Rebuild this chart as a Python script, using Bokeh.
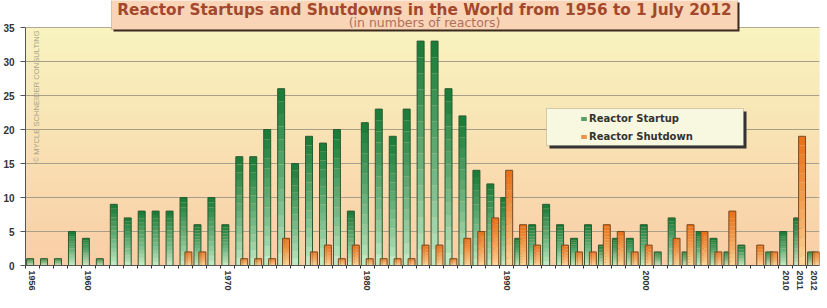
import numpy as np
from bokeh.plotting import figure
from bokeh.models import (Range1d, FixedTicker, Label, BoxAnnotation, Legend, LegendItem,
                          ColumnDataSource)
from bokeh.embed import file_html
from bokeh.resources import INLINE

# ---------------- data ----------------
years = list(range(1956, 2013))
startups = [1, 1, 1, 5, 4, 1, 9, 7, 8, 8,
            8, 10, 6, 10, 6, 16, 16, 20, 26, 15,
            19, 18, 20, 8, 21, 23, 19, 23, 33, 33,
            26, 22, 14, 12, 10, 4, 6, 9, 6, 4,
            6, 3, 4, 4, 6, 2, 7, 2, 5, 4,
            2, 3, 0, 2, 5, 7, 2]
shutdowns = [0, 0, 0, 0, 0, 0, 0, 0, 0, 0,
             0, 2, 2, 0, 0, 1, 1, 1, 4, 0,
             2, 3, 1, 3, 1, 1, 1, 1, 3, 3,
             1, 4, 5, 7, 14, 6, 3, 0, 3, 2,
             2, 6, 5, 2, 3, 0, 4, 6, 5, 2,
             8, 0, 3, 2, 0, 19, 2]
tick_years = [1956, 1960, 1970, 1980, 1990, 2000, 2010, 2011, 2012]
y_ticks = [0, 5, 10, 15, 20, 25, 30, 35]
y_max = 35
series_names = ["Reactor Startup", "Reactor Shutdown"]
title_text = "Reactor Startups and Shutdowns in the World from 1956 to 1 July 2012"
subtitle_text = "(in numbers of reactors)"
watermark_text = "\u00a9 MYCLE SCHNEIDER CONSULTING"

FONT = "Liberation Sans"
WIDE = "DejaVu Sans"

# frame extends above the value area so the title box can be drawn there
px_per_unit = 238 / y_max
y_top = y_max + 27 / px_per_unit

p = figure(width=827, height=308, output_backend="svg", toolbar_location=None,
           x_range=Range1d(1955.5, 2012.43), y_range=Range1d(0, y_top),
           min_border_left=22, min_border_right=8, min_border_top=0, min_border_bottom=43,
           background_fill_color="white", border_fill_color="white")
p.outline_line_color = None

# background gradient (yellow top -> peach bottom)
n = 200
top_c = np.array([248, 244, 192])
bot_c = np.array([250, 206, 166])
t = np.linspace(0, 1, n)[:, None]  # row 0 = bottom
cols = bot_c * (1 - t) + top_c * t
img = np.zeros((n, 1), dtype=np.uint32)
view = img.view(dtype=np.uint8).reshape((n, 1, 4))
view[:, 0, 0] = cols[:, 0]
view[:, 0, 1] = cols[:, 1]
view[:, 0, 2] = cols[:, 2]
view[:, 0, 3] = 255
xr0, xr1 = p.x_range.start, p.x_range.end
p.image_rgba(image=[img], x=xr0, y=0, dw=xr1 - xr0, dh=y_max, level="image")

# plot-area border
p.add_layout(BoxAnnotation(left=xr0, right=xr1, bottom=0, top=y_max,
                           fill_alpha=0, line_color="#c9c2b0", line_width=1, level="underlay"))

# ---------------- bars with vertical gradient ----------------
def hex_mix(c1, c2, f):
    c = [int(round(a * (1 - f) + b * f)) for a, b in zip(c1, c2)]
    return "#%02x%02x%02x" % tuple(c)

def gradient_bars(vals, offset, dark, light, line):
    xs = [y + offset for y in years]
    N = 14
    rs = []
    for k in range(N):
        f = (k + 0.5) / N  # 0 bottom -> 1 top
        col = hex_mix(light, dark, f ** 0.8)
        r = p.vbar(x=xs, bottom=[v * k / N for v in vals], top=[v * (k + 1) / N for v in vals],
                   width=0.5, fill_color=col, line_color=None)
        rs.append(r)
    nz = [(x, v) for x, v in zip(xs, vals) if v > 0]
    src = ColumnDataSource(dict(x=[a for a, _ in nz], top=[b for _, b in nz]))
    p.vbar(x="x", top="top", bottom=0, width=0.5, source=src,
           fill_color=None, line_color=line, line_width=1)
    return rs[int(N * 0.6)]

lg_g = gradient_bars(startups, -0.17, (22, 122, 52), (205, 240, 205), "#2c5a33")
lg_o = gradient_bars(shutdowns, 0.18, (232, 112, 24), (252, 220, 160), "#7a4a20")

# ---------------- axes ----------------
p.xaxis.ticker = FixedTicker(ticks=tick_years, minor_ticks=[y - 0.5 for y in years] + [2012.5])
p.xaxis.major_label_orientation = "vertical"
p.xaxis.major_label_text_font = FONT
p.xaxis.major_label_text_font_style = "bold"
p.xaxis.major_label_text_font_size = "9px"
p.xaxis.major_label_text_color = "#333333"
p.xaxis.major_tick_line_color = None
p.xaxis.major_tick_out = 3
p.xaxis.major_label_standoff = 2
p.xaxis.minor_tick_in = 0
p.xaxis.minor_tick_out = 3
p.xaxis.minor_tick_line_color = "#333333"
p.xaxis.axis_line_color = "#555555"
p.xgrid.grid_line_color = None

p.yaxis.ticker = FixedTicker(ticks=y_ticks)
p.yaxis.bounds = (0, y_max)
p.yaxis.major_label_text_font = FONT
p.yaxis.major_label_text_font_style = "bold"
p.yaxis.major_label_text_font_size = "10px"
p.yaxis.major_label_text_color = "#333333"
p.yaxis.major_tick_in = 0
p.yaxis.major_tick_out = 5
p.yaxis.major_tick_line_color = "#555555"
p.yaxis.minor_tick_line_color = None
p.yaxis.axis_line_color = "#555555"
p.yaxis.major_label_standoff = 6
p.ygrid.grid_line_color = "#a89f88"
p.ygrid.grid_line_width = 1

# frame is 265 px tall; screen y measured up from frame bottom
def sy(canvas_y):
    return 265 - canvas_y

def sx(canvas_x):
    return canvas_x - 22

# ---------------- title box ----------------
p.add_layout(BoxAnnotation(left=sx(110), right=sx(736), top=sy(2), bottom=sy(31),
                           left_units="screen", right_units="screen",
                           top_units="screen", bottom_units="screen",
                           fill_color="#3a2a20", fill_alpha=1, line_color=None,
                           level="annotation"))
p.add_layout(BoxAnnotation(left=sx(108), right=sx(734), top=sy(-1), bottom=sy(29),
                           left_units="screen", right_units="screen",
                           top_units="screen", bottom_units="screen",
                           fill_color="#fad4b6", fill_alpha=1, line_color="#8a6a55",
                           line_width=1, level="annotation"))
p.add_layout(Label(x=sx(421), y=sy(9.5), x_units="screen", y_units="screen", text=title_text,
                   text_align="center", text_baseline="middle",
                   text_font=WIDE, text_font_style="bold", text_font_size="15.3px",
                   text_color="#a3482c"))
p.add_layout(Label(x=sx(421), y=sy(22), x_units="screen", y_units="screen", text=subtitle_text,
                   text_align="center", text_baseline="middle",
                   text_font=WIDE, text_font_size="12.5px",
                   text_color="#b07060"))

# watermark
p.add_layout(Label(x=sx(33), y=sy(162), x_units="screen", y_units="screen", text=watermark_text,
                   angle=np.pi / 2, text_align="left", text_baseline="middle",
                   text_font=FONT, text_font_size="7.6px", text_color="#a8a290"))

# ---------------- legend ----------------
p.add_layout(BoxAnnotation(left=sx(546), right=sx(743), top=sy(111), bottom=sy(148),
                           left_units="screen", right_units="screen",
                           top_units="screen", bottom_units="screen",
                           fill_color="#333333", fill_alpha=1, line_color=None,
                           level="annotation"))
p.add_layout(BoxAnnotation(left=sx(543), right=sx(740), top=sy(108), bottom=sy(145),
                           left_units="screen", right_units="screen",
                           top_units="screen", bottom_units="screen",
                           fill_color="#f8f8e0", fill_alpha=1, line_color="#777766",
                           line_width=1, level="annotation"))
legend = Legend(items=[LegendItem(label=series_names[0], renderers=[lg_g]),
                       LegendItem(label=series_names[1], renderers=[lg_o])],
                location=(sx(577), sy(143)), orientation="vertical",
                glyph_width=7, glyph_height=5, label_standoff=2,
                label_height=14, spacing=4, padding=0, margin=0,
                label_text_font=WIDE, label_text_font_style="bold",
                label_text_font_size="10px", label_text_color="#333333",
                border_line_color=None, background_fill_alpha=0)
p.add_layout(legend, "center")

open("out.html", "w").write(file_html(p, INLINE))
